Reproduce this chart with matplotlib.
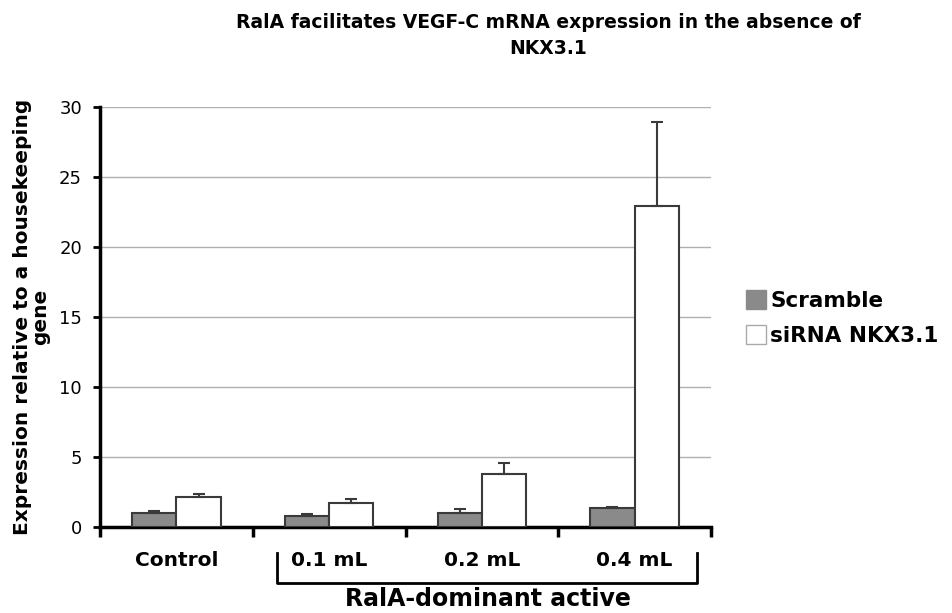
import matplotlib
matplotlib.use("Agg")
import matplotlib.pyplot as plt
import matplotlib.transforms as mtransforms
from matplotlib.patches import Patch
import numpy as np

categories = ["Control", "0.1 mL", "0.2 mL", "0.4 mL"]
scramble = [1.0, 0.8, 1.0, 1.35]
scramble_err = [0.12, 0.12, 0.28, 0.1]
sirna = [2.15, 1.7, 3.8, 22.9]
sirna_err = [0.2, 0.3, 0.8, 6.0]
series_names = ["Scramble", "siRNA NKX3.1"]
yticks = [0, 5, 10, 15, 20, 25, 30]
group_label = "RalA-dominant active"
title = "RalA facilitates VEGF-C mRNA expression in the absence of\nNKX3.1"
ylabel = "Expression relative to a housekeeping\ngene"

plt.rcParams['font.family'] = ['DejaVu Sans']

fig = plt.figure(figsize=(9.53, 6.13), dpi=100)
ax = fig.add_axes([100/953, 1-527/613, (711-100)/953, (527-107)/613])

x = np.arange(len(categories))
w = 0.29
ax.bar(x - w/2, scramble, w, color="#8a8a8a", edgecolor="#3a3a3a", linewidth=1.5,
       yerr=[np.zeros(len(scramble)), scramble_err],
       error_kw=dict(ecolor="#3a3a3a", elinewidth=1.5, capsize=4, capthick=1.5), zorder=3)
ax.bar(x + w/2, sirna, w, color="white", edgecolor="#3a3a3a", linewidth=1.5,
       yerr=[np.zeros(len(sirna)), sirna_err],
       error_kw=dict(ecolor="#3a3a3a", elinewidth=1.5, capsize=4, capthick=1.5), zorder=3)

ax.set_xlim(-0.5, len(categories) - 0.5)
ax.set_ylim(0, 30)
ax.set_yticks(yticks)
ax.set_yticklabels([str(t) for t in yticks], fontsize=13)
ax.yaxis.grid(True, color="#b0b0b0", linewidth=1.0, zorder=0)
ax.set_axisbelow(True)

for s in ["top", "right"]:
    ax.spines[s].set_visible(False)
for s in ["left", "bottom"]:
    ax.spines[s].set_linewidth(2.5)
    ax.spines[s].set_color("black")

ax.set_xticks(np.arange(len(categories) + 1) - 0.5)
ax.set_xticklabels([])
ax.tick_params(axis="x", which="major", length=7, width=2.5, direction="out")
ax.set_xticks(x, minor=True)
ax.set_xticklabels(categories, minor=True, fontsize=14.5, fontweight="bold")
ax.tick_params(axis="x", which="minor", length=0, pad=17)
ax.tick_params(axis="y", length=5, width=2, direction="out", pad=8)

ax.set_ylabel(ylabel, fontsize=14.5, fontweight="bold", labelpad=6, linespacing=1.0)
fig.suptitle(title, fontsize=13.5, fontweight="bold", x=548/953, y=1-13/613, va="top",
             linespacing=1.5)

# bracket for the RalA-dominant active group
trans = mtransforms.blended_transform_factory(ax.transData, ax.transAxes)
bx0 = 1 - 0.34
bx1 = 3 + 0.41
ytop = -0.062
ybot = -0.133
ax.plot([bx0, bx0, bx1, bx1], [ytop, ybot, ybot, ytop], color="black", linewidth=2,
        transform=trans, clip_on=False)
ax.text(2.04, -0.172, group_label, transform=trans, ha="center", va="center",
        fontsize=17, fontweight="bold")

handles = [Patch(facecolor="#8a8a8a", edgecolor="#8a8a8a"),
           Patch(facecolor="white", edgecolor="#aaaaaa")]
leg = fig.legend(handles, series_names, loc="center left", bbox_to_anchor=(727/953, 1-318/613),
                 frameon=False, prop=dict(size=15.5, weight="bold"), handlelength=0.9,
                 handleheight=0.95, handletextpad=0.2, labelspacing=0.65)

fig.savefig("out.png", dpi=100)
